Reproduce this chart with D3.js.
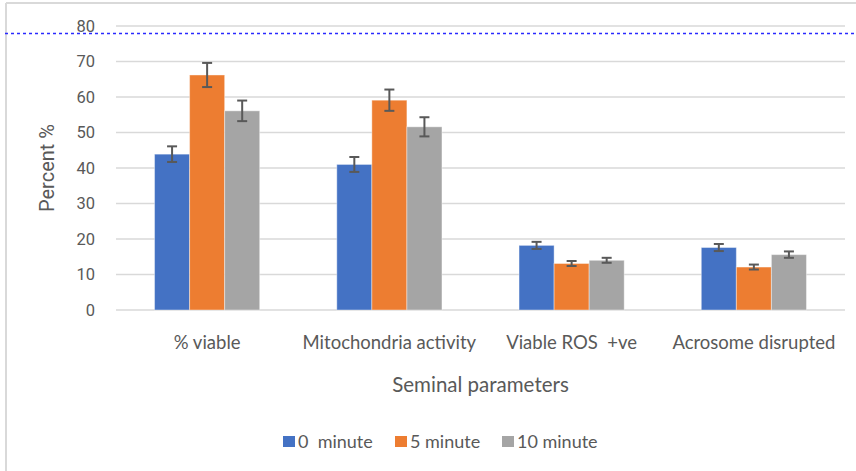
<!DOCTYPE html>
<html>
<head>
<meta charset="utf-8">
<script src="https://cdn.jsdelivr.net/npm/d3@7"></script>
<style>
  body { margin: 0; background: #fff; }
  svg { display: block; }
  text { white-space: pre; }
</style>
</head>
<body>
<div id="chart"></div>
<script>
var categories = ["% viable", "Mitochondria activity", "Viable ROS  +ve", "Acrosome disrupted"];
var seriesNames = ["0  minute", "5 minute", "10 minute"];
var seriesColors = ["#4472C4", "#ED7D31", "#A5A5A5"];
var values0 = [43.9, 41.0, 18.2, 17.6];
var values5 = [66.2, 59.1, 13.1, 12.1];
var values10 = [56.1, 51.6, 14.0, 15.6];
var errors0 = [2.2, 2.1, 1.0, 1.0];
var errors5 = [3.4, 3.0, 0.7, 0.7];
var errors10 = [2.9, 2.7, 0.7, 0.9];
var yTicks = [0, 10, 20, 30, 40, 50, 60, 70, 80];

var svgWidth = 856;
var svgHeight = 471;

var margin = { top: 26, bottom: 161, left: 116, right: 11 };
var width = svgWidth - margin.left - margin.right;
var height = svgHeight - margin.top - margin.bottom;

var seriesValues = [values0, values5, values10];
var seriesErrors = [errors0, errors5, errors10];

var svg = d3.select("#chart")
    .append("svg")
    .attr("width", svgWidth)
    .attr("height", svgHeight);

// chart frame (only top and left edges visible in the crop)
svg.append("line")
    .attr("x1", 6).attr("x2", svgWidth)
    .attr("y1", 3).attr("y2", 3)
    .attr("stroke", "#d9d9d9").attr("stroke-width", 2);
svg.append("line")
    .attr("x1", 6).attr("x2", 6)
    .attr("y1", 3).attr("y2", svgHeight)
    .attr("stroke", "#d9d9d9").attr("stroke-width", 2);

var chartGroup = svg.append("g")
    .attr("transform", `translate(${margin.left}, ${margin.top})`);

var xScale = d3.scaleBand()
    .domain(categories)
    .range([0, width])
    .paddingInner(0.423)
    .paddingOuter(0.2115);

var xInner = d3.scaleBand()
    .domain(d3.range(seriesNames.length))
    .range([0, xScale.bandwidth()]);

var yScale = d3.scaleLinear()
    .domain([0, 80])
    .range([height, 0]);

// gridlines
chartGroup.append("g")
    .selectAll("line")
    .data(yTicks)
    .enter()
    .append("line")
    .attr("x1", 0)
    .attr("x2", width)
    .attr("y1", d => yScale(d))
    .attr("y2", d => yScale(d))
    .attr("stroke", "#d9d9d9")
    .attr("stroke-width", 1.5);

// y tick labels
var leftAxis = d3.axisLeft(yScale).tickValues(yTicks).tickSize(0).tickPadding(21);
var yAxisG = chartGroup.append("g").call(leftAxis);
yAxisG.select(".domain").remove();
yAxisG.selectAll("text")
    .attr("fill", "#595959")
    .attr("font-family", "Roboto, sans-serif")
    .attr("font-size", "16.5px");

// bars
var groups = chartGroup.selectAll(".cat")
    .data(categories)
    .enter()
    .append("g")
    .attr("class", "cat")
    .attr("transform", d => `translate(${xScale(d)}, 0)`);

seriesNames.forEach(function (name, s) {
    groups.append("rect")
        .attr("x", xInner(s))
        .attr("y", (d, i) => yScale(seriesValues[s][i]))
        .attr("width", xInner.bandwidth())
        .attr("height", (d, i) => height - yScale(seriesValues[s][i]))
        .attr("fill", seriesColors[s])
        .attr("stroke", "#ffffff")
        .attr("stroke-opacity", 0.4)
        .attr("stroke-width", 1);
});

// error bars
seriesNames.forEach(function (name, s) {
    var cx = xInner(s) + xInner.bandwidth() / 2;
    var capHalf = 5;
    var eb = groups.append("g").attr("stroke", "#595959").attr("stroke-width", 2);
    eb.append("line")
        .attr("x1", cx).attr("x2", cx)
        .attr("y1", (d, i) => yScale(seriesValues[s][i] + seriesErrors[s][i]))
        .attr("y2", (d, i) => yScale(seriesValues[s][i] - seriesErrors[s][i]));
    eb.append("line")
        .attr("x1", cx - capHalf).attr("x2", cx + capHalf)
        .attr("y1", (d, i) => yScale(seriesValues[s][i] + seriesErrors[s][i]))
        .attr("y2", (d, i) => yScale(seriesValues[s][i] + seriesErrors[s][i]));
    eb.append("line")
        .attr("x1", cx - capHalf).attr("x2", cx + capHalf)
        .attr("y1", (d, i) => yScale(seriesValues[s][i] - seriesErrors[s][i]))
        .attr("y2", (d, i) => yScale(seriesValues[s][i] - seriesErrors[s][i]));
});

// category labels
chartGroup.append("g")
    .selectAll("text")
    .data(categories)
    .enter()
    .append("text")
    .attr("x", d => xScale(d) + xScale.bandwidth() / 2)
    .attr("y", height + 39)
    .attr("text-anchor", "middle")
    .attr("fill", "#595959")
    .attr("font-family", "Lato, sans-serif")
    .attr("font-size", "18.5px")
    .text(d => d);

// axis titles
chartGroup.append("text")
    .attr("transform", "rotate(-90)")
    .attr("x", 0 - 142)
    .attr("y", 0 - margin.left + 54)
    .attr("text-anchor", "middle")
    .attr("fill", "#595959")
    .attr("font-family", "Roboto, sans-serif")
    .attr("font-size", "20px")
    .text("Percent %");

chartGroup.append("text")
    .attr("x", width / 2)
    .attr("y", height + 82)
    .attr("text-anchor", "middle")
    .attr("fill", "#595959")
    .attr("font-family", "Lato, sans-serif")
    .attr("font-size", "20.5px")
    .text("Seminal parameters");

// legend
var legendX = [283, 395, 502];
var legend = svg.append("g");
seriesNames.forEach(function (name, s) {
    legend.append("rect")
        .attr("x", legendX[s])
        .attr("y", 436)
        .attr("width", 12)
        .attr("height", 11)
        .attr("fill", seriesColors[s]);
    legend.append("text")
        .attr("x", legendX[s] + 15)
        .attr("y", 448)
        .attr("fill", "#595959")
        .attr("font-family", "Lato, sans-serif")
        .attr("font-size", "18px")
        .text(name);
});

// dotted reference line across the top
svg.append("line")
    .attr("x1", 5).attr("x2", svgWidth)
    .attr("y1", 33.5).attr("y2", 33.5)
    .attr("stroke", "#2a2aff")
    .attr("stroke-width", 1.3)
    .attr("stroke-dasharray", "3,3");
</script>
</body>
</html>
